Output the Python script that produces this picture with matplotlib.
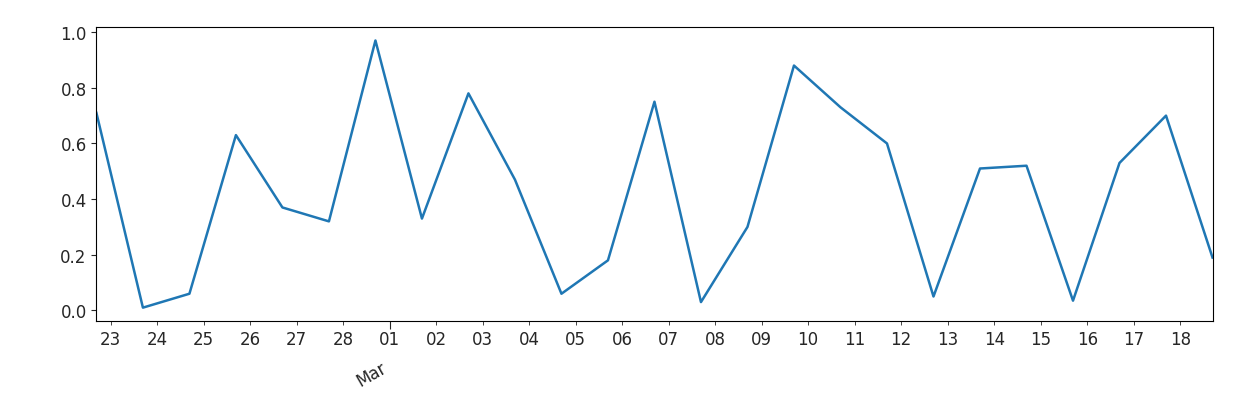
import numpy as np
import pandas as pd
import matplotlib
matplotlib.use('Agg')
from matplotlib import pyplot as plt
import matplotlib.dates as mdates

# one value a day, sampled late in the afternoon
start = '2018-02-22 16:40'
n_days = 25
values = [0.71, 0.01, 0.06, 0.63, 0.37, 0.32, 0.97, 0.33, 0.78, 0.47,
          0.06, 0.18, 0.75, 0.03, 0.30, 0.88, 0.73, 0.60, 0.05, 0.51,
          0.52, 0.035, 0.53, 0.70, 0.19]

dates = pd.date_range(start, periods=n_days, freq='D')

plt.rcParams['font.size'] = 12
plt.rcParams['text.color'] = '#262626'
plt.rcParams['xtick.color'] = '#262626'
plt.rcParams['ytick.color'] = '#262626'
fig = plt.figure(figsize=(12.36, 4.02), dpi=100)
ax = fig.add_axes([0.078, 0.199, 0.903, 0.731])
ax.plot(dates, values, color='#1f77b4', lw=1.8)
ax.set_xlim(dates[0], dates[-1])

ax.xaxis.remove_overlapping_locs = False
ax.xaxis.set_major_locator(mdates.MonthLocator())
ax.xaxis.set_major_formatter(mdates.DateFormatter('\n%b'))
ax.xaxis.set_minor_locator(mdates.DayLocator())
ax.xaxis.set_minor_formatter(mdates.DateFormatter('%d'))
ax.tick_params(axis='x', which='major', length=6, pad=8)
ax.tick_params(axis='x', which='minor', length=3)
for lab in ax.get_xticklabels(which='major'):
    lab.set_rotation(30)
    lab.set_ha('right')

ax.set_yticks([0.0, 0.2, 0.4, 0.6, 0.8, 1.0])

fig.savefig('out.png')
